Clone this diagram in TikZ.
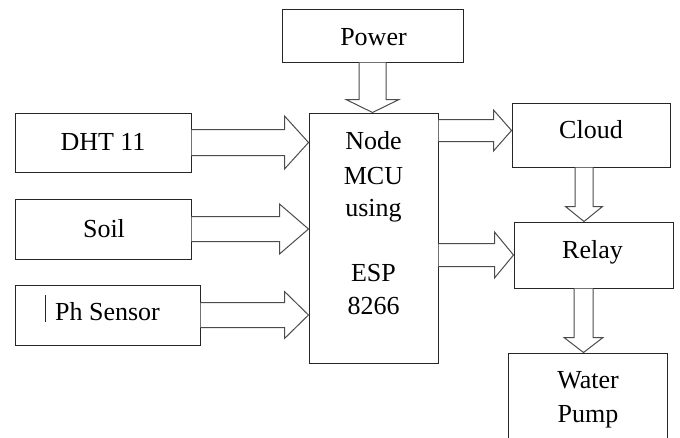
\documentclass[tikz,border=0pt]{standalone}
\usepackage{fontspec}
\setmainfont{Liberation Serif}
\newfontfamily\tnr{Liberation Serif}
\usetikzlibrary{calc}
\newcommand\harrow[5]{%
  \draw[blk] let \p1=(#1), \p2=(#2) in
    (\x1,{\y1+#3pt}) -- ({\x2-#5pt},{\y1+#3pt}) -- ({\x2-#5pt},{\y1+#4pt}) -- (\x2,\y1)
    -- ({\x2-#5pt},{\y1-#4pt}) -- ({\x2-#5pt},{\y1-#3pt}) -- (\x1,{\y1-#3pt});}
\newcommand\varrow[5]{%
  \draw[blk] let \p1=(#1), \p2=(#2) in
    ({\x1+#3pt},\y1) -- ({\x1+#3pt},{\y2+#5pt}) -- ({\x1+#4pt},{\y2+#5pt}) -- (\x1,\y2)
    -- ({\x1-#4pt},{\y2+#5pt}) -- ({\x1-#3pt},{\y2+#5pt}) -- ({\x1-#3pt},\y1);}
\begin{document}
\begin{tikzpicture}[x=1pt,y=-1pt,
  box/.style={draw=black!85, line width=1pt, rectangle, inner sep=0pt},
  lbl/.style={anchor=base, inner sep=0pt, font=\tnr\fontsize{26}{30}\selectfont},
  blk/.style={draw=black!70, line width=1pt, fill=white, line join=miter}]
\clip (0,0) rectangle (680,437);
\fill[white] (0,0) rectangle (680,437);
% boxes
\node[box, minimum width=176pt, minimum height=59pt] (dht) at (103,142.5) {};
\node[box, minimum width=176pt, minimum height=60pt] (soil) at (103,229) {};
\node[box, minimum width=185pt, minimum height=60pt] (ph) at (107.5,315) {};
\node[box, minimum width=129pt, minimum height=250pt] (mcu) at (373.5,238) {};
\node[box, minimum width=181pt, minimum height=53pt] (power) at (372.5,35.5) {};
\node[box, minimum width=158pt, minimum height=64pt] (cloud) at (591,135) {};
\node[box, minimum width=159pt, minimum height=66pt] (relay) at (593.5,255) {};
\node[box, minimum width=159pt, minimum height=100pt] (pump) at (587.5,403) {};
% helper coordinates
\coordinate (mc) at ($(mcu.north east)+(0,18)$);
\coordinate (cr) at ($(cloud.south)+(-7,0)$);
\coordinate (rp) at ($(relay.south)+(-10,0)$);
% block arrows
\harrow{dht.east}{mcu.west|-dht.east}{13}{26.5}{24}
\harrow{soil.east}{mcu.west|-soil.east}{12.5}{25}{29}
\harrow{ph.east}{mcu.west|-ph.east}{12.5}{23.5}{24}
\harrow{mc}{cloud.west|-mc}{11}{20.5}{18}
\harrow{mcu.east|-relay.west}{relay.west}{11.5}{23}{19}
\varrow{power.south}{mcu.north-|power.south}{13.5}{26.5}{13}
\varrow{cr}{relay.north-|cr}{9}{18.5}{15}
\varrow{rp}{pump.north-|rp}{9.5}{19.5}{15}
% labels
\node[lbl] (tdht) at (103,150) {DHT 11};
\node[lbl] (tsoil) at (104,237) {Soil};
\node[lbl] (tph) at (107.5,320) {Ph Sensor};
\draw[black!85, line width=0.9pt] (45.5,295) -- (45.5,322);
\node[lbl] (tpow) at (373.5,45) {Power};
\node[lbl] (tcloud) at (591,138) {Cloud};
\node[lbl] (trelay) at (592.5,258) {Relay};
\node[lbl] (m1) at (373.5,149) {Node};
\node[lbl] (m2) at (373.5,184) {MCU};
\node[lbl] (m3) at (373.5,216) {using};
\node[lbl] (m4) at (373.5,281) {ESP};
\node[lbl] (m5) at (373.5,314) {8266};
\node[lbl] (w1) at (588,388) {Water};
\node[lbl] (w2) at (588,422) {Pump};
\end{tikzpicture}
\end{document}
